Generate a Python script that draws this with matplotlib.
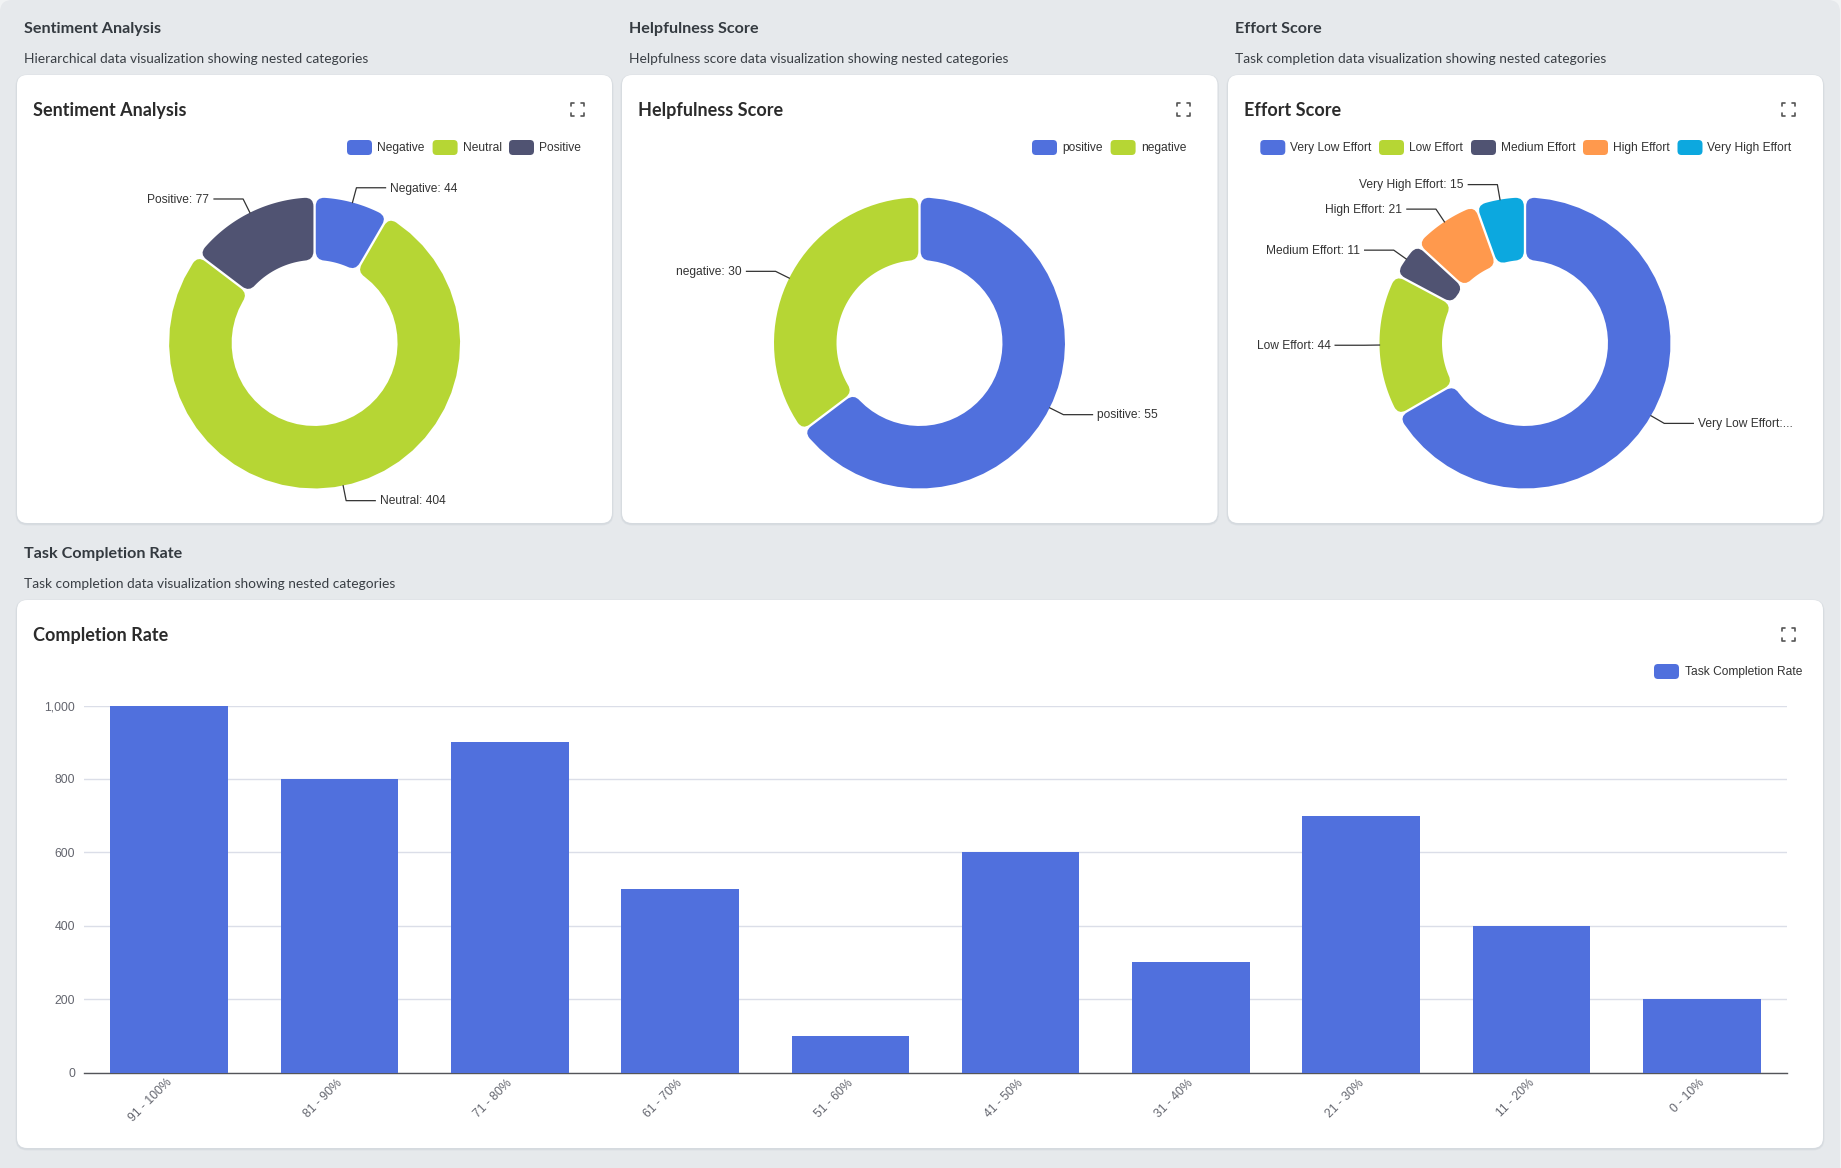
import numpy as np
import matplotlib
matplotlib.use("Agg")
import matplotlib.pyplot as plt
from matplotlib.patches import FancyBboxPatch, PathPatch
from matplotlib.path import Path
from matplotlib.transforms import ScaledTranslation

# data
sent_labels = ["Negative", "Neutral", "Positive"]
sent_values = [44, 404, 77]
help_labels = ["positive", "negative"]
help_values = [55, 30]
effort_labels = ["Very Low Effort", "Low Effort", "Medium Effort", "High Effort", "Very High Effort"]
effort_values = [182, 44, 11, 21, 15]
rate_labels = ["91 - 100%", "81 - 90%", "71 - 80%", "61 - 70%", "51 - 60%",
               "41 - 50%", "31 - 40%", "21 - 30%", "11 - 20%", "0 - 10%"]
rate_values = [1000, 800, 900, 500, 100, 600, 300, 700, 400, 200]

colors = ["#5070DD", "#B6D634", "#505372", "#FF994D", "#0CA8DF"]
W, H = 1841, 1168
R_PX = 145.5
INNER = 83 / R_PX
LABEL_SIZE = 8.65

fig = plt.figure(figsize=(W / 100, H / 100), dpi=100, facecolor="#F1F3F4")
bg = fig.add_axes([0, 0, 1, 1])
bg.set_xlim(0, W)
bg.set_ylim(H, 0)
bg.axis("off")
# page background, the screenshot has rounded top corners
bg.add_patch(FancyBboxPatch((12, 12), W - 25, H + 40, boxstyle="round,pad=12,rounding_size=12",
                            fc="#E6E9EC", ec="none", clip_on=False))


def card(x0, y0, x1, y1):
    # soft shadow then the white card
    for grow, col in [(1.5, "#DDE1E5"), (0.7, "#D5DADF")]:
        bg.add_patch(FancyBboxPatch((x0 + 10, y0 + 10 + 1), x1 - x0 - 20, y1 - y0 - 20,
                                    boxstyle="round,pad=%.1f,rounding_size=%.1f" % (10 + grow, 10 + grow),
                                    fc=col, ec="none"))
    bg.add_patch(FancyBboxPatch((x0 + 10, y0 + 10), x1 - x0 - 20, y1 - y0 - 20,
                                boxstyle="round,pad=10,rounding_size=10", fc="white", ec="none"))


def expand_icon(cx, cy):
    s, t = 6.5, 3
    for sx in (-1, 1):
        for sy in (-1, 1):
            bg.plot([cx + sx * (s - t), cx + sx * s, cx + sx * s],
                    [cy + sy * s, cy + sy * s, cy + sy * (s - t)],
                    color="#555555", lw=1.2, solid_capstyle="round", solid_joinstyle="round")


def headers(x, y, title, sub, card_title):
    # y is the baseline of the section title
    bg.text(x, y, title, family="Lato", weight="bold", fontsize=11.6, color="#343A40", va="baseline")
    bg.text(x, y + 30.3, sub, family="Lato", fontsize=9.95, color="#3A3F45", va="baseline")
    bg.text(x + 9, y + 83, card_title, family="Lato", weight="bold", fontsize=13, color="#2B2B2B", va="baseline")


def legend(items, swatch_x, text_x, y):
    for lab, col, sx, tx in zip(*items, swatch_x, text_x):
        bg.add_patch(FancyBboxPatch((sx + 4, y - 3.5), 17, 7,
                                    boxstyle="round,pad=4,rounding_size=4", fc=col, ec="none"))
        bg.text(tx, y + 3.8, lab, family="Liberation Sans", fontsize=LABEL_SIZE, color="#333333", va="baseline")


def rounded_sector(a1, a2, r0, r1, gap=0.008, c=0.06):
    # a1, a2 clockwise degrees from 12 o'clock, corners rounded with a bezier
    def pt(r, a):
        return (r * np.sin(a), r * np.cos(a))
    a1, a2 = np.radians(a1), np.radians(a2)
    def arc(r, s, e, n=40):
        return [pt(r, t) for t in np.linspace(s, e, n)]
    o1, o2 = a1 + np.arcsin(gap / r1), a2 - np.arcsin(gap / r1)
    i1, i2 = a1 + np.arcsin(gap / r0), a2 - np.arcsin(gap / r0)
    co = min(c, (o2 - o1) * r1 / 2.2)
    ci = min(c, (i2 - i1) * r0 / 2.2)
    verts, codes = [], []
    def add(ps):
        for p in ps:
            verts.append(p)
            codes.append(Path.MOVETO if len(verts) == 1 else Path.LINETO)
    def corner(ctrl, end):
        verts.extend([ctrl, end])
        codes.extend([Path.CURVE3, Path.CURVE3])
    add(arc(r1, o1 + co / r1, o2 - co / r1))
    corner(pt(r1, o2), pt(r1 - co, a2 - np.arcsin(gap / (r1 - co))))
    add([pt(r0 + ci, a2 - np.arcsin(gap / (r0 + ci)))])
    corner(pt(r0, i2), pt(r0, i2 - ci / r0))
    add(arc(r0, i2 - ci / r0, i1 + ci / r0))
    corner(pt(r0, i1), pt(r0 + ci, a1 + np.arcsin(gap / (r0 + ci))))
    add([pt(r1 - co, a1 + np.arcsin(gap / (r1 - co)))])
    corner(pt(r1, o1), pt(r1, o1 + co / r1))
    verts.append(verts[0])
    codes.append(Path.CLOSEPOLY)
    return Path(verts, codes)


def donut(cx, cy, labels, values, label_text=None, anchor_angle=None):
    ax = fig.add_axes([(cx - R_PX) / W, 1 - (cy + R_PX) / H, 2 * R_PX / W, 2 * R_PX / H])
    wedges, _ = ax.pie(values, colors=colors, startangle=90, counterclock=False, radius=1)
    label_text = label_text or {}
    anchor_angle = anchor_angle or {}
    for w, lab, val, col in zip(wedges, labels, values, colors):
        a1, a2 = 90 - w.theta2, 90 - w.theta1
        w.set_visible(False)
        ax.add_patch(PathPatch(rounded_sector(a1, a2, INNER, 1.0), fc=col, ec="none", clip_on=False))
        mid = np.radians(anchor_angle.get(lab, (a1 + a2) / 2))
        sx, sy = np.sin(mid), np.cos(mid)
        side = 1 if sx > 0 else -1
        ex, ey = 1.105 * sx, 1.105 * sy
        ax.plot([sx, ex, ex + side * 0.2], [sy, ey, ey], color="#333333", lw=0.9, clip_on=False)
        ax.text(ex + side * 0.232, ey - 0.026, label_text.get(lab, "%s: %d" % (lab, val)),
                family="Liberation Sans", fontsize=LABEL_SIZE, color="#333333", va="baseline",
                ha="left" if side > 0 else "right", clip_on=False)
    ax.set_xlim(-1, 1)
    ax.set_ylim(-1, 1)
    ax.set_aspect("equal")
    ax.axis("off")
    ax.patch.set_visible(False)


# cards
card(17, 75, 612, 523)
card(622, 75, 1217.5, 523)
card(1228, 75, 1823, 523)
card(17, 600, 1823, 1148)

headers(24, 33, "Sentiment Analysis", "Hierarchical data visualization showing nested categories", "Sentiment Analysis")
headers(629.5, 33, "Helpfulness Score", "Helpfulness score data visualization showing nested categories", "Helpfulness Score")
headers(1235, 33, "Effort Score", "Task completion data visualization showing nested categories", "Effort Score")
headers(24, 558, "Task Completion Rate", "Task completion data visualization showing nested categories", "Completion Rate")

for ix, iy in [(578, 109), (1184, 109), (1789, 109), (1789, 634)]:
    expand_icon(ix, iy)

legend((sent_labels, colors), [347, 432.6, 509], [377, 462.6, 539.3], 147.5)
legend((help_labels, colors), [1032, 1110.6], [1062.5, 1141], 147.5)
legend((effort_labels, colors), [1260.3, 1379, 1471, 1583, 1677.5], [1290.4, 1409, 1500.7, 1613, 1707], 147.5)
legend((["Task Completion Rate"], colors), [1654], [1685], 671.5)

donut(314.6, 343, sent_labels, sent_values)
donut(919.5, 343, help_labels, help_values)
donut(1525, 343, effort_labels, effort_values,
      label_text={"Very Low Effort": "Very Low Effort:..."}, anchor_angle={"Low Effort": 269.2})

# bar chart
bx = fig.add_axes([84 / W, 1 - 1072.5 / H, (1787 - 84) / W, (1072.5 - 705.5) / H])
bx.bar(range(len(rate_values)), rate_values, width=0.69, color=colors[0], zorder=3)
bx.set_xlim(-0.5, 9.5)
bx.set_ylim(0, 1000)
bx.set_yticks(range(0, 1001, 200))
bx.set_yticklabels(["0", "200", "400", "600", "800", "1,000"])
bx.set_xticks(range(len(rate_labels)))
bx.set_xticklabels(rate_labels, rotation=45, ha="right", va="top", rotation_mode="anchor")
bx.grid(axis="y", color="#DBDEE8", lw=1, zorder=0)
bx.tick_params(axis="both", length=0, labelsize=8.8, labelcolor="#63656E")
bx.tick_params(axis="y", pad=6.5)
bx.tick_params(axis="x", pad=3)
shift = ScaledTranslation(-3.5 / 100, 0, fig.dpi_scale_trans)
for lab in bx.get_xticklabels():
    lab.set_family("Liberation Sans")
    lab.set_transform(lab.get_transform() + shift)
for lab in bx.get_yticklabels():
    lab.set_family("Liberation Sans")
for name in ["top", "left", "right"]:
    bx.spines[name].set_visible(False)
bx.spines["bottom"].set_color("#54555A")
bx.spines["bottom"].set_linewidth(1)
bx.patch.set_visible(False)

fig.savefig("out.png", dpi=100, facecolor=fig.get_facecolor())
